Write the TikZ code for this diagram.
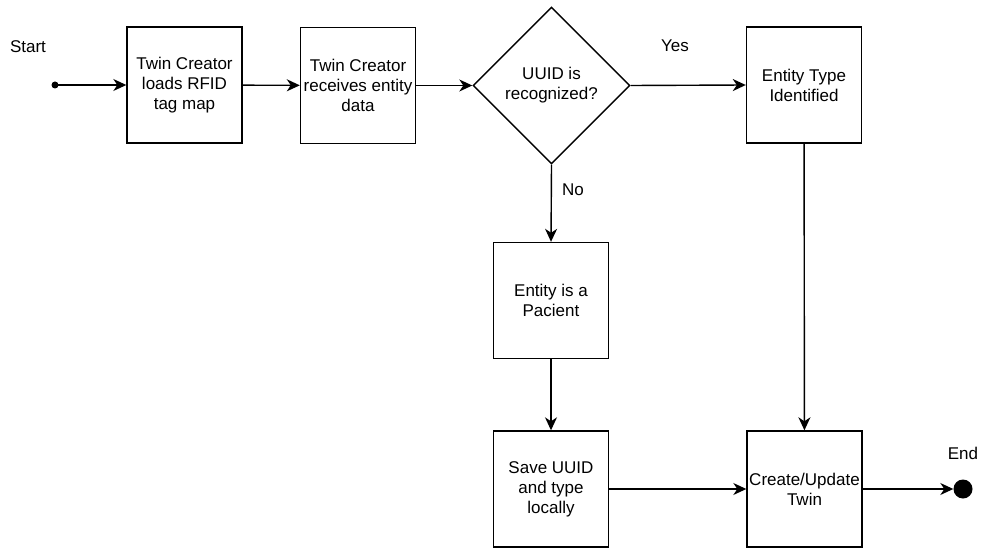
\documentclass[tikz,border=0pt]{standalone}
\usepackage{fontspec}
\setmainfont{Liberation Sans}
\usetikzlibrary{arrows.meta,shapes.geometric}
\begin{document}
\begin{tikzpicture}[x=1pt,y=-1pt,
  every node/.style={font=\fontsize{17}{20}\selectfont},
  stepbox/.style={draw,line width=1.4pt,minimum width=115pt,minimum height=116pt,inner sep=0pt,align=center},
  decision/.style={draw,diamond,aspect=1,line width=1.4pt,minimum size=157pt,inner sep=0pt,align=center},
  flow/.style={line width=1.4pt,-{Stealth[length=13pt,width=12pt,inset=4pt]}},
  lbl/.style={inner sep=0pt}]
\useasboundingbox (0,0) rectangle (981,548);
% process steps
\node[stepbox] (load) at (184.5,85) {Twin Creator\\loads RFID\\tag map};
\node[stepbox] (recv) at (358,85.5) {Twin Creator\\receives entity\\data};
\node[decision] (uuid) at (551.5,85.5) {UUID is\\recognized?};
\node[stepbox] (type) at (804,85) {Entity Type\\Identified};
\node[stepbox] (pac) at (551,300.5) {Entity is a\\Pacient};
\node[stepbox] (save) at (551,489) {Save UUID\\and type\\locally};
\node[stepbox] (twin) at (804.5,489) {Create/Update\\Twin};
% terminals
\fill (55,85) circle (3.5pt) coordinate (start);
\node[circle,fill,minimum size=19pt,inner sep=0pt] (end) at (963,489) {};
\node[lbl] (startlbl) at (28,47) {Start};
\node[lbl] (endlbl) at (963,453) {End};
\node[lbl] (yes) at (675,46) {Yes};
\node[lbl] (no) at (573,190) {No};
% connectors
\draw[flow] (start) -- (load);
\draw[flow] (load) -- (recv);
\draw[flow] (recv) -- (uuid);
\draw[flow] (uuid.east) -- (type.west);
\draw[flow] (uuid.south) -- (pac.north);
\draw[flow] (pac) -- (save);
\draw[flow] (type) -- (twin);
\draw[flow] (save) -- (twin);
\draw[flow] (twin) -- (end);
\end{tikzpicture}
\end{document}
